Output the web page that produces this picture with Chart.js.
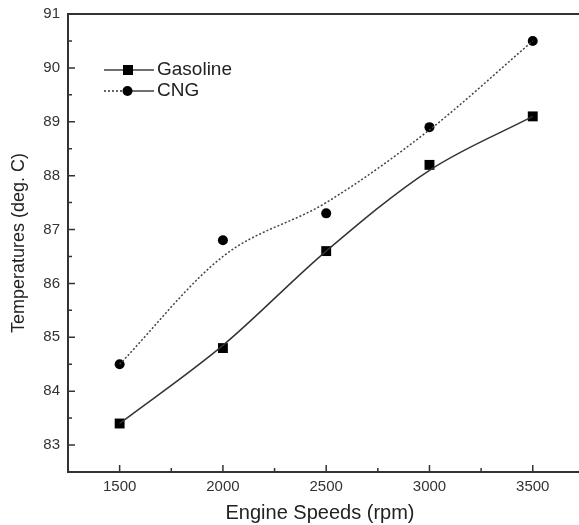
<!DOCTYPE html>
<html>
<head>
<meta charset="utf-8">
<script src="https://cdn.jsdelivr.net/npm/chart.js@4/dist/chart.umd.min.js"></script>
<style>
  html, body { margin: 0; padding: 0; background: #fff; overflow: hidden; }
  #wrap { width: 579px; height: 525px; }
</style>
</head>
<body>
<div id="wrap"><canvas id="tempChart"></canvas></div>
<script>
// engine speed (rpm)
var speeds = [1500, 2000, 2500, 3000, 3500];
// measured points
var gasoline = [83.4, 84.8, 86.6, 88.2, 89.1];
var cng = [84.5, 86.8, 87.3, 88.9, 90.5];
// fitted curves as drawn in the picture
var gasolineFit = [83.4, 84.85, 86.6, 88.1, 89.1];
var cngFit = [84.5, 86.5, 87.5, 88.85, 90.5];

var xTicks = [1500, 2000, 2500, 3000, 3500];
var yTicks = [83, 84, 85, 86, 87, 88, 89, 90, 91];

var fontFamily = '"Liberation Sans", Arial, sans-serif';

function pts(xs, ys) {
    var out = [];
    for (var i = 0; i < xs.length; i++) out.push({ x: xs[i], y: ys[i] });
    return out;
}

// inward major/minor ticks, top/bottom frame lines, legend inside the plot
var frame = {
    id: 'frame',
    afterDraw: function (chart) {
        var ctx = chart.ctx, a = chart.chartArea;
        var xs = chart.scales.x, ys = chart.scales.y;
        ctx.save();
        ctx.strokeStyle = '#333';
        ctx.lineWidth = 2;
        ctx.beginPath();
        ctx.moveTo(a.left - 1, a.top);
        ctx.lineTo(chart.width, a.top);
        ctx.moveTo(a.right - 2, a.bottom);
        ctx.lineTo(chart.width, a.bottom);
        ctx.stroke();
        ctx.lineWidth = 1.5;
        ctx.beginPath();
        for (var v = 1250; v <= 3750; v += 250) {
            var px = xs.getPixelForValue(v);
            var len = (v % 500 === 0) ? 7 : 4;
            ctx.moveTo(px, a.bottom);
            ctx.lineTo(px, a.bottom - len);
        }
        for (var w = 83; w <= 91; w += 0.5) {
            var py = ys.getPixelForValue(w);
            var l = (w % 1 === 0) ? 7 : 4;
            ctx.moveTo(a.left, py);
            ctx.lineTo(a.left + l, py);
        }
        ctx.stroke();

        ctx.font = '19px ' + fontFamily;
        ctx.textBaseline = 'middle';
        var items = [
            { y: 70, label: 'Gasoline', dash: [], shape: 'rect' },
            { y: 91, label: 'CNG', dash: [2, 2], shape: 'circle' }
        ];
        items.forEach(function (it) {
            ctx.strokeStyle = '#333';
            ctx.lineWidth = 1.4;
            ctx.setLineDash(it.dash);
            ctx.beginPath();
            ctx.moveTo(104, it.y);
            ctx.lineTo(123, it.y);
            ctx.stroke();
            ctx.setLineDash([]);
            ctx.beginPath();
            ctx.moveTo(132, it.y);
            ctx.lineTo(154, it.y);
            ctx.stroke();
            ctx.fillStyle = '#000';
            if (it.shape === 'rect') {
                ctx.fillRect(123, it.y - 5, 10, 10);
            } else {
                ctx.beginPath();
                ctx.arc(127.5, it.y, 5, 0, Math.PI * 2);
                ctx.fill();
            }
            ctx.fillStyle = '#222';
            ctx.fillText(it.label, 157, it.y);
        });
        ctx.restore();
    }
};

var chartElement = document.getElementById('tempChart').getContext('2d');
var chartObject = new Chart(chartElement, {
    type: 'scatter',
    data: {
        datasets: [{
            label: 'Gasoline fit',
            data: pts(speeds, gasolineFit),
            showLine: true,
            borderColor: '#333',
            borderWidth: 1.5,
            pointRadius: 0,
            cubicInterpolationMode: 'monotone'
        }, {
            label: 'CNG fit',
            data: pts(speeds, cngFit),
            showLine: true,
            borderColor: '#444',
            borderWidth: 1.5,
            borderDash: [2, 2],
            pointRadius: 0,
            cubicInterpolationMode: 'monotone'
        }, {
            label: 'Gasoline',
            data: pts(speeds, gasoline),
            pointStyle: 'rect',
            pointRadius: 7,
            backgroundColor: '#000',
            borderColor: '#000',
            borderWidth: 0
        }, {
            label: 'CNG',
            data: pts(speeds, cng),
            pointStyle: 'circle',
            pointRadius: 5,
            backgroundColor: '#000',
            borderColor: '#000',
            borderWidth: 0
        }]
    },
    options: {
        responsive: true,
        maintainAspectRatio: false,
        animation: false,
        layout: { padding: { top: 14, right: 0, left: 0, bottom: 0 } },
        plugins: { legend: { display: false }, tooltip: { enabled: false } },
        scales: {
            x: {
                type: 'linear',
                min: 1250,
                max: 3690,
                afterBuildTicks: function (s) { s.ticks = xTicks.map(function (v) { return { value: v }; }); },
                afterFit: function (s) { s.height = 53; s.paddingLeft = 0; s.paddingRight = 0; },
                grid: { display: false, drawTicks: false },
                border: { display: true, color: '#333', width: 2 },
                ticks: {
                    padding: 6,
                    color: '#333',
                    callback: function (v) { return String(v); },
                    font: { family: fontFamily, size: 15 }
                },
                title: {
                    display: true,
                    text: 'Engine Speeds (rpm)',
                    color: '#222',
                    padding: { top: 0, bottom: 0 },
                    font: { family: fontFamily, size: 20 }
                }
            },
            y: {
                min: 82.5,
                max: 91,
                afterBuildTicks: function (s) { s.ticks = yTicks.map(function (v) { return { value: v }; }); },
                afterFit: function (s) { s.width = 68; s.paddingTop = 0; s.paddingBottom = 0; },
                grid: { display: false, drawTicks: false },
                border: { display: true, color: '#333', width: 2 },
                ticks: {
                    padding: 8,
                    color: '#333',
                    font: { family: fontFamily, size: 15 }
                },
                title: {
                    display: true,
                    text: 'Temperatures (deg. C)',
                    color: '#222',
                    padding: { top: 8, bottom: 0 },
                    font: { family: fontFamily, size: 18 }
                }
            }
        }
    },
    plugins: [frame]
});
chartObject.update();
</script>
</body>
</html>
